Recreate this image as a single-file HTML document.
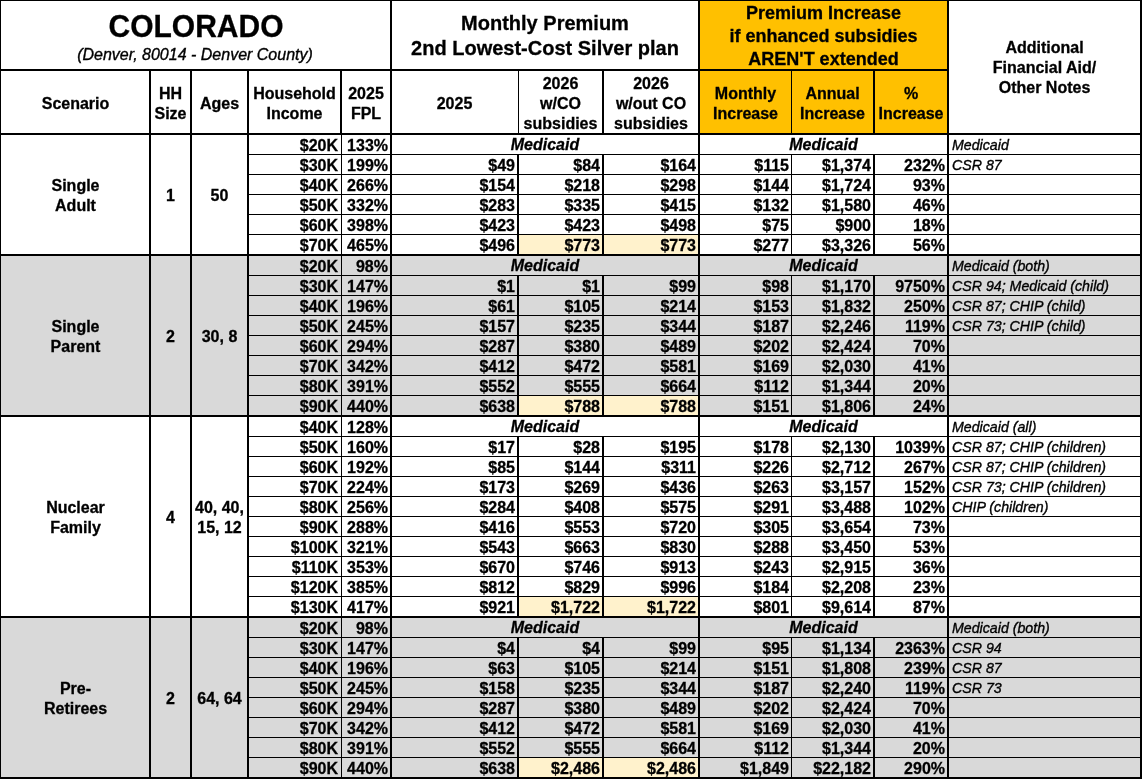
<!DOCTYPE html>
<html><head><meta charset="utf-8"><title>Colorado</title><style>
html,body{margin:0;padding:0;background:#fff;}
body{width:1142px;height:779px;position:relative;overflow:hidden;font-family:"Liberation Sans",sans-serif;color:#000;}
body>div{position:absolute;}
.tx{left:0;top:0;width:1142px;height:779px;will-change:transform;}
.tx>div{position:absolute;white-space:nowrap;}
.b{font-weight:bold;font-size:16px;line-height:20px;-webkit-text-stroke:0.3px #000;}
.bi{font-weight:bold;font-style:italic;font-size:16px;line-height:20px;-webkit-text-stroke:0.3px #000;}
.i{font-style:italic;font-size:16px;line-height:20px;-webkit-text-stroke:0.35px #000;}
</style></head><body>
<div style="left:700px;top:1px;width:247px;height:132px;background:#ffc000"></div>
<div style="left:519px;top:235px;width:83px;height:19px;background:#fff2cc"></div>
<div style="left:604px;top:235px;width:94px;height:19px;background:#fff2cc"></div>
<div style="left:1px;top:256px;width:1139px;height:159px;background:#d9d9d9"></div>
<div style="left:519px;top:396px;width:83px;height:19px;background:#fff2cc"></div>
<div style="left:604px;top:396px;width:94px;height:19px;background:#fff2cc"></div>
<div style="left:519px;top:597px;width:83px;height:19px;background:#fff2cc"></div>
<div style="left:604px;top:597px;width:94px;height:19px;background:#fff2cc"></div>
<div style="left:1px;top:618px;width:1139px;height:159px;background:#d9d9d9"></div>
<div style="left:519px;top:758px;width:83px;height:19px;background:#fff2cc"></div>
<div style="left:604px;top:758px;width:94px;height:19px;background:#fff2cc"></div>
<div style="left:0px;top:0px;width:1142px;height:1px;background:#000"></div>
<div style="left:0px;top:133px;width:1142px;height:2px;background:#000"></div>
<div style="left:0px;top:254px;width:1142px;height:2px;background:#000"></div>
<div style="left:0px;top:415px;width:1142px;height:2px;background:#000"></div>
<div style="left:0px;top:616px;width:1142px;height:2px;background:#000"></div>
<div style="left:0px;top:777px;width:1142px;height:2px;background:#000"></div>
<div style="left:0px;top:69px;width:949px;height:2px;background:#000"></div>
<div style="left:0px;top:0px;width:1px;height:779px;background:#000"></div>
<div style="left:390px;top:0px;width:2px;height:779px;background:#000"></div>
<div style="left:698px;top:0px;width:2px;height:779px;background:#000"></div>
<div style="left:947px;top:0px;width:2px;height:779px;background:#000"></div>
<div style="left:1140px;top:0px;width:2px;height:779px;background:#000"></div>
<div style="left:149px;top:69px;width:2px;height:710px;background:#000"></div>
<div style="left:190px;top:69px;width:2px;height:710px;background:#000"></div>
<div style="left:247px;top:69px;width:2px;height:710px;background:#000"></div>
<div style="left:340px;top:69px;width:2px;height:66px;background:#000"></div>
<div style="left:341px;top:135px;width:1px;height:644px;background:#000"></div>
<div style="left:518px;top:69px;width:1px;height:66px;background:#000"></div>
<div style="left:602px;top:69px;width:2px;height:66px;background:#000"></div>
<div style="left:791px;top:69px;width:1px;height:66px;background:#000"></div>
<div style="left:873px;top:69px;width:2px;height:66px;background:#000"></div>
<div style="left:249px;top:154px;width:893px;height:1px;background:#000"></div>
<div style="left:249px;top:174px;width:893px;height:1px;background:#000"></div>
<div style="left:249px;top:194px;width:893px;height:1px;background:#000"></div>
<div style="left:249px;top:214px;width:893px;height:1px;background:#000"></div>
<div style="left:249px;top:234px;width:893px;height:1px;background:#000"></div>
<div style="left:517px;top:155px;width:2px;height:19px;background:#000"></div>
<div style="left:602px;top:155px;width:2px;height:19px;background:#000"></div>
<div style="left:791px;top:155px;width:1px;height:19px;background:#000"></div>
<div style="left:873px;top:155px;width:2px;height:19px;background:#000"></div>
<div style="left:517px;top:175px;width:2px;height:19px;background:#000"></div>
<div style="left:602px;top:175px;width:2px;height:19px;background:#000"></div>
<div style="left:791px;top:175px;width:1px;height:19px;background:#000"></div>
<div style="left:873px;top:175px;width:2px;height:19px;background:#000"></div>
<div style="left:517px;top:195px;width:2px;height:19px;background:#000"></div>
<div style="left:602px;top:195px;width:2px;height:19px;background:#000"></div>
<div style="left:791px;top:195px;width:1px;height:19px;background:#000"></div>
<div style="left:873px;top:195px;width:2px;height:19px;background:#000"></div>
<div style="left:517px;top:215px;width:2px;height:19px;background:#000"></div>
<div style="left:602px;top:215px;width:2px;height:19px;background:#000"></div>
<div style="left:791px;top:215px;width:1px;height:19px;background:#000"></div>
<div style="left:873px;top:215px;width:2px;height:19px;background:#000"></div>
<div style="left:517px;top:235px;width:2px;height:19px;background:#000"></div>
<div style="left:602px;top:235px;width:2px;height:19px;background:#000"></div>
<div style="left:791px;top:235px;width:1px;height:19px;background:#000"></div>
<div style="left:873px;top:235px;width:2px;height:19px;background:#000"></div>
<div style="left:249px;top:275px;width:893px;height:1px;background:#000"></div>
<div style="left:249px;top:295px;width:893px;height:1px;background:#000"></div>
<div style="left:249px;top:315px;width:893px;height:1px;background:#000"></div>
<div style="left:249px;top:335px;width:893px;height:1px;background:#000"></div>
<div style="left:249px;top:355px;width:893px;height:1px;background:#000"></div>
<div style="left:249px;top:375px;width:893px;height:1px;background:#000"></div>
<div style="left:249px;top:395px;width:893px;height:1px;background:#000"></div>
<div style="left:517px;top:276px;width:2px;height:19px;background:#000"></div>
<div style="left:602px;top:276px;width:2px;height:19px;background:#000"></div>
<div style="left:791px;top:276px;width:1px;height:19px;background:#000"></div>
<div style="left:873px;top:276px;width:2px;height:19px;background:#000"></div>
<div style="left:517px;top:296px;width:2px;height:19px;background:#000"></div>
<div style="left:602px;top:296px;width:2px;height:19px;background:#000"></div>
<div style="left:791px;top:296px;width:1px;height:19px;background:#000"></div>
<div style="left:873px;top:296px;width:2px;height:19px;background:#000"></div>
<div style="left:517px;top:316px;width:2px;height:19px;background:#000"></div>
<div style="left:602px;top:316px;width:2px;height:19px;background:#000"></div>
<div style="left:791px;top:316px;width:1px;height:19px;background:#000"></div>
<div style="left:873px;top:316px;width:2px;height:19px;background:#000"></div>
<div style="left:517px;top:336px;width:2px;height:19px;background:#000"></div>
<div style="left:602px;top:336px;width:2px;height:19px;background:#000"></div>
<div style="left:791px;top:336px;width:1px;height:19px;background:#000"></div>
<div style="left:873px;top:336px;width:2px;height:19px;background:#000"></div>
<div style="left:517px;top:356px;width:2px;height:19px;background:#000"></div>
<div style="left:602px;top:356px;width:2px;height:19px;background:#000"></div>
<div style="left:791px;top:356px;width:1px;height:19px;background:#000"></div>
<div style="left:873px;top:356px;width:2px;height:19px;background:#000"></div>
<div style="left:517px;top:376px;width:2px;height:19px;background:#000"></div>
<div style="left:602px;top:376px;width:2px;height:19px;background:#000"></div>
<div style="left:791px;top:376px;width:1px;height:19px;background:#000"></div>
<div style="left:873px;top:376px;width:2px;height:19px;background:#000"></div>
<div style="left:517px;top:396px;width:2px;height:19px;background:#000"></div>
<div style="left:602px;top:396px;width:2px;height:19px;background:#000"></div>
<div style="left:791px;top:396px;width:1px;height:19px;background:#000"></div>
<div style="left:873px;top:396px;width:2px;height:19px;background:#000"></div>
<div style="left:249px;top:436px;width:893px;height:1px;background:#000"></div>
<div style="left:249px;top:456px;width:893px;height:1px;background:#000"></div>
<div style="left:249px;top:476px;width:893px;height:1px;background:#000"></div>
<div style="left:249px;top:496px;width:893px;height:1px;background:#000"></div>
<div style="left:249px;top:516px;width:893px;height:1px;background:#000"></div>
<div style="left:249px;top:536px;width:893px;height:1px;background:#000"></div>
<div style="left:249px;top:556px;width:893px;height:1px;background:#000"></div>
<div style="left:249px;top:576px;width:893px;height:1px;background:#000"></div>
<div style="left:249px;top:596px;width:893px;height:1px;background:#000"></div>
<div style="left:517px;top:437px;width:2px;height:19px;background:#000"></div>
<div style="left:602px;top:437px;width:2px;height:19px;background:#000"></div>
<div style="left:791px;top:437px;width:1px;height:19px;background:#000"></div>
<div style="left:873px;top:437px;width:2px;height:19px;background:#000"></div>
<div style="left:517px;top:457px;width:2px;height:19px;background:#000"></div>
<div style="left:602px;top:457px;width:2px;height:19px;background:#000"></div>
<div style="left:791px;top:457px;width:1px;height:19px;background:#000"></div>
<div style="left:873px;top:457px;width:2px;height:19px;background:#000"></div>
<div style="left:517px;top:477px;width:2px;height:19px;background:#000"></div>
<div style="left:602px;top:477px;width:2px;height:19px;background:#000"></div>
<div style="left:791px;top:477px;width:1px;height:19px;background:#000"></div>
<div style="left:873px;top:477px;width:2px;height:19px;background:#000"></div>
<div style="left:517px;top:497px;width:2px;height:19px;background:#000"></div>
<div style="left:602px;top:497px;width:2px;height:19px;background:#000"></div>
<div style="left:791px;top:497px;width:1px;height:19px;background:#000"></div>
<div style="left:873px;top:497px;width:2px;height:19px;background:#000"></div>
<div style="left:517px;top:517px;width:2px;height:19px;background:#000"></div>
<div style="left:602px;top:517px;width:2px;height:19px;background:#000"></div>
<div style="left:791px;top:517px;width:1px;height:19px;background:#000"></div>
<div style="left:873px;top:517px;width:2px;height:19px;background:#000"></div>
<div style="left:517px;top:537px;width:2px;height:19px;background:#000"></div>
<div style="left:602px;top:537px;width:2px;height:19px;background:#000"></div>
<div style="left:791px;top:537px;width:1px;height:19px;background:#000"></div>
<div style="left:873px;top:537px;width:2px;height:19px;background:#000"></div>
<div style="left:517px;top:557px;width:2px;height:19px;background:#000"></div>
<div style="left:602px;top:557px;width:2px;height:19px;background:#000"></div>
<div style="left:791px;top:557px;width:1px;height:19px;background:#000"></div>
<div style="left:873px;top:557px;width:2px;height:19px;background:#000"></div>
<div style="left:517px;top:577px;width:2px;height:19px;background:#000"></div>
<div style="left:602px;top:577px;width:2px;height:19px;background:#000"></div>
<div style="left:791px;top:577px;width:1px;height:19px;background:#000"></div>
<div style="left:873px;top:577px;width:2px;height:19px;background:#000"></div>
<div style="left:517px;top:597px;width:2px;height:19px;background:#000"></div>
<div style="left:602px;top:597px;width:2px;height:19px;background:#000"></div>
<div style="left:791px;top:597px;width:1px;height:19px;background:#000"></div>
<div style="left:873px;top:597px;width:2px;height:19px;background:#000"></div>
<div style="left:249px;top:637px;width:893px;height:1px;background:#000"></div>
<div style="left:249px;top:657px;width:893px;height:1px;background:#000"></div>
<div style="left:249px;top:677px;width:893px;height:1px;background:#000"></div>
<div style="left:249px;top:697px;width:893px;height:1px;background:#000"></div>
<div style="left:249px;top:717px;width:893px;height:1px;background:#000"></div>
<div style="left:249px;top:737px;width:893px;height:1px;background:#000"></div>
<div style="left:249px;top:757px;width:893px;height:1px;background:#000"></div>
<div style="left:517px;top:638px;width:2px;height:19px;background:#000"></div>
<div style="left:602px;top:638px;width:2px;height:19px;background:#000"></div>
<div style="left:791px;top:638px;width:1px;height:19px;background:#000"></div>
<div style="left:873px;top:638px;width:2px;height:19px;background:#000"></div>
<div style="left:517px;top:658px;width:2px;height:19px;background:#000"></div>
<div style="left:602px;top:658px;width:2px;height:19px;background:#000"></div>
<div style="left:791px;top:658px;width:1px;height:19px;background:#000"></div>
<div style="left:873px;top:658px;width:2px;height:19px;background:#000"></div>
<div style="left:517px;top:678px;width:2px;height:19px;background:#000"></div>
<div style="left:602px;top:678px;width:2px;height:19px;background:#000"></div>
<div style="left:791px;top:678px;width:1px;height:19px;background:#000"></div>
<div style="left:873px;top:678px;width:2px;height:19px;background:#000"></div>
<div style="left:517px;top:698px;width:2px;height:19px;background:#000"></div>
<div style="left:602px;top:698px;width:2px;height:19px;background:#000"></div>
<div style="left:791px;top:698px;width:1px;height:19px;background:#000"></div>
<div style="left:873px;top:698px;width:2px;height:19px;background:#000"></div>
<div style="left:517px;top:718px;width:2px;height:19px;background:#000"></div>
<div style="left:602px;top:718px;width:2px;height:19px;background:#000"></div>
<div style="left:791px;top:718px;width:1px;height:19px;background:#000"></div>
<div style="left:873px;top:718px;width:2px;height:19px;background:#000"></div>
<div style="left:517px;top:738px;width:2px;height:19px;background:#000"></div>
<div style="left:602px;top:738px;width:2px;height:19px;background:#000"></div>
<div style="left:791px;top:738px;width:1px;height:19px;background:#000"></div>
<div style="left:873px;top:738px;width:2px;height:19px;background:#000"></div>
<div style="left:517px;top:758px;width:2px;height:19px;background:#000"></div>
<div style="left:602px;top:758px;width:2px;height:19px;background:#000"></div>
<div style="left:791px;top:758px;width:1px;height:19px;background:#000"></div>
<div style="left:873px;top:758px;width:2px;height:19px;background:#000"></div>
<div class="tx">
<div class="b" style="left:2px;top:12px;width:388px;text-align:center;line-height:30px;font-size:30px;transform:scaleY(1.05);transform-origin:50% 60%">COLORADO</div>
<div class="i" style="left:1px;top:46px;width:388px;text-align:center;line-height:18px;font-size:16px">(Denver, 80014 - Denver County)</div>
<div class="b" style="left:392px;top:11px;width:306px;text-align:center;line-height:25px;font-size:20px">Monthly Premium<br>2nd Lowest-Cost Silver plan</div>
<div class="b" style="left:700px;top:2px;width:247px;text-align:center;line-height:22.75px;font-size:18px">Premium Increase<br>if enhanced subsidies<br>AREN'T extended</div>
<div class="b" style="left:949px;top:38px;width:191px;text-align:center;line-height:20px">Additional<br>Financial Aid/<br>Other Notes</div>
<div class="b" style="left:2px;top:94px;width:147px;text-align:center">Scenario</div>
<div class="b" style="left:151px;top:84px;width:39px;text-align:center">HH<br>Size</div>
<div class="b" style="left:192px;top:94px;width:55px;text-align:center">Ages</div>
<div class="b" style="left:249px;top:84px;width:91px;text-align:center">Household<br>Income</div>
<div class="b" style="left:342px;top:84px;width:48px;text-align:center">2025<br>FPL</div>
<div class="b" style="left:392px;top:94px;width:125px;text-align:center">2025</div>
<div class="b" style="left:519px;top:74px;width:83px;text-align:center">2026<br>w/CO<br>subsidies</div>
<div class="b" style="left:604px;top:74px;width:94px;text-align:center">2026<br>w/out CO<br>subsidies</div>
<div class="b" style="left:700px;top:84px;width:91px;text-align:center">Monthly<br>Increase</div>
<div class="b" style="left:792px;top:84px;width:81px;text-align:center">Annual<br>Increase</div>
<div class="b" style="left:875px;top:84px;width:72px;text-align:center">%<br>Increase</div>
<div class="b" style="left:2px;top:176px;width:147px;text-align:center">Single<br>Adult</div>
<div class="b" style="left:151px;top:186px;width:39px;text-align:center">1</div>
<div class="b" style="left:192px;top:186px;width:55px;text-align:center">50</div>
<div class="b" style="left:249px;top:136px;width:89px;text-align:right">$20K</div>
<div class="b" style="left:342px;top:136px;width:46px;text-align:right">133%</div>
<div class="bi" style="left:392px;top:135px;width:306px;text-align:center">Medicaid</div>
<div class="bi" style="left:700px;top:135px;width:247px;text-align:center">Medicaid</div>
<div class="i" style="left:952px;top:135px;width:188px;text-align:left;font-size:14.2px">Medicaid</div>
<div class="b" style="left:249px;top:156px;width:89px;text-align:right">$30K</div>
<div class="b" style="left:342px;top:156px;width:46px;text-align:right">199%</div>
<div class="b" style="left:392px;top:156px;width:123px;text-align:right">$49</div>
<div class="b" style="left:519px;top:156px;width:81px;text-align:right">$84</div>
<div class="b" style="left:604px;top:156px;width:92px;text-align:right">$164</div>
<div class="b" style="left:700px;top:156px;width:89px;text-align:right">$115</div>
<div class="b" style="left:792px;top:156px;width:79px;text-align:right">$1,374</div>
<div class="b" style="left:875px;top:156px;width:70px;text-align:right">232%</div>
<div class="i" style="left:952px;top:155px;width:188px;text-align:left;font-size:14.2px">CSR 87</div>
<div class="b" style="left:249px;top:176px;width:89px;text-align:right">$40K</div>
<div class="b" style="left:342px;top:176px;width:46px;text-align:right">266%</div>
<div class="b" style="left:392px;top:176px;width:123px;text-align:right">$154</div>
<div class="b" style="left:519px;top:176px;width:81px;text-align:right">$218</div>
<div class="b" style="left:604px;top:176px;width:92px;text-align:right">$298</div>
<div class="b" style="left:700px;top:176px;width:89px;text-align:right">$144</div>
<div class="b" style="left:792px;top:176px;width:79px;text-align:right">$1,724</div>
<div class="b" style="left:875px;top:176px;width:70px;text-align:right">93%</div>
<div class="b" style="left:249px;top:196px;width:89px;text-align:right">$50K</div>
<div class="b" style="left:342px;top:196px;width:46px;text-align:right">332%</div>
<div class="b" style="left:392px;top:196px;width:123px;text-align:right">$283</div>
<div class="b" style="left:519px;top:196px;width:81px;text-align:right">$335</div>
<div class="b" style="left:604px;top:196px;width:92px;text-align:right">$415</div>
<div class="b" style="left:700px;top:196px;width:89px;text-align:right">$132</div>
<div class="b" style="left:792px;top:196px;width:79px;text-align:right">$1,580</div>
<div class="b" style="left:875px;top:196px;width:70px;text-align:right">46%</div>
<div class="b" style="left:249px;top:216px;width:89px;text-align:right">$60K</div>
<div class="b" style="left:342px;top:216px;width:46px;text-align:right">398%</div>
<div class="b" style="left:392px;top:216px;width:123px;text-align:right">$423</div>
<div class="b" style="left:519px;top:216px;width:81px;text-align:right">$423</div>
<div class="b" style="left:604px;top:216px;width:92px;text-align:right">$498</div>
<div class="b" style="left:700px;top:216px;width:89px;text-align:right">$75</div>
<div class="b" style="left:792px;top:216px;width:79px;text-align:right">$900</div>
<div class="b" style="left:875px;top:216px;width:70px;text-align:right">18%</div>
<div class="b" style="left:249px;top:236px;width:89px;text-align:right">$70K</div>
<div class="b" style="left:342px;top:236px;width:46px;text-align:right">465%</div>
<div class="b" style="left:392px;top:236px;width:123px;text-align:right">$496</div>
<div class="b" style="left:519px;top:236px;width:81px;text-align:right">$773</div>
<div class="b" style="left:604px;top:236px;width:92px;text-align:right">$773</div>
<div class="b" style="left:700px;top:236px;width:89px;text-align:right">$277</div>
<div class="b" style="left:792px;top:236px;width:79px;text-align:right">$3,326</div>
<div class="b" style="left:875px;top:236px;width:70px;text-align:right">56%</div>
<div class="b" style="left:2px;top:317px;width:147px;text-align:center">Single<br>Parent</div>
<div class="b" style="left:151px;top:327px;width:39px;text-align:center">2</div>
<div class="b" style="left:192px;top:327px;width:55px;text-align:center">30, 8</div>
<div class="b" style="left:249px;top:257px;width:89px;text-align:right">$20K</div>
<div class="b" style="left:342px;top:257px;width:46px;text-align:right">98%</div>
<div class="bi" style="left:392px;top:256px;width:306px;text-align:center">Medicaid</div>
<div class="bi" style="left:700px;top:256px;width:247px;text-align:center">Medicaid</div>
<div class="i" style="left:952px;top:256px;width:188px;text-align:left;font-size:14.2px">Medicaid (both)</div>
<div class="b" style="left:249px;top:277px;width:89px;text-align:right">$30K</div>
<div class="b" style="left:342px;top:277px;width:46px;text-align:right">147%</div>
<div class="b" style="left:392px;top:277px;width:123px;text-align:right">$1</div>
<div class="b" style="left:519px;top:277px;width:81px;text-align:right">$1</div>
<div class="b" style="left:604px;top:277px;width:92px;text-align:right">$99</div>
<div class="b" style="left:700px;top:277px;width:89px;text-align:right">$98</div>
<div class="b" style="left:792px;top:277px;width:79px;text-align:right">$1,170</div>
<div class="b" style="left:875px;top:277px;width:70px;text-align:right">9750%</div>
<div class="i" style="left:952px;top:276px;width:188px;text-align:left;font-size:14.2px">CSR 94; Medicaid (child)</div>
<div class="b" style="left:249px;top:297px;width:89px;text-align:right">$40K</div>
<div class="b" style="left:342px;top:297px;width:46px;text-align:right">196%</div>
<div class="b" style="left:392px;top:297px;width:123px;text-align:right">$61</div>
<div class="b" style="left:519px;top:297px;width:81px;text-align:right">$105</div>
<div class="b" style="left:604px;top:297px;width:92px;text-align:right">$214</div>
<div class="b" style="left:700px;top:297px;width:89px;text-align:right">$153</div>
<div class="b" style="left:792px;top:297px;width:79px;text-align:right">$1,832</div>
<div class="b" style="left:875px;top:297px;width:70px;text-align:right">250%</div>
<div class="i" style="left:952px;top:296px;width:188px;text-align:left;font-size:14.2px">CSR 87; CHIP (child)</div>
<div class="b" style="left:249px;top:317px;width:89px;text-align:right">$50K</div>
<div class="b" style="left:342px;top:317px;width:46px;text-align:right">245%</div>
<div class="b" style="left:392px;top:317px;width:123px;text-align:right">$157</div>
<div class="b" style="left:519px;top:317px;width:81px;text-align:right">$235</div>
<div class="b" style="left:604px;top:317px;width:92px;text-align:right">$344</div>
<div class="b" style="left:700px;top:317px;width:89px;text-align:right">$187</div>
<div class="b" style="left:792px;top:317px;width:79px;text-align:right">$2,246</div>
<div class="b" style="left:875px;top:317px;width:70px;text-align:right">119%</div>
<div class="i" style="left:952px;top:316px;width:188px;text-align:left;font-size:14.2px">CSR 73; CHIP (child)</div>
<div class="b" style="left:249px;top:337px;width:89px;text-align:right">$60K</div>
<div class="b" style="left:342px;top:337px;width:46px;text-align:right">294%</div>
<div class="b" style="left:392px;top:337px;width:123px;text-align:right">$287</div>
<div class="b" style="left:519px;top:337px;width:81px;text-align:right">$380</div>
<div class="b" style="left:604px;top:337px;width:92px;text-align:right">$489</div>
<div class="b" style="left:700px;top:337px;width:89px;text-align:right">$202</div>
<div class="b" style="left:792px;top:337px;width:79px;text-align:right">$2,424</div>
<div class="b" style="left:875px;top:337px;width:70px;text-align:right">70%</div>
<div class="b" style="left:249px;top:357px;width:89px;text-align:right">$70K</div>
<div class="b" style="left:342px;top:357px;width:46px;text-align:right">342%</div>
<div class="b" style="left:392px;top:357px;width:123px;text-align:right">$412</div>
<div class="b" style="left:519px;top:357px;width:81px;text-align:right">$472</div>
<div class="b" style="left:604px;top:357px;width:92px;text-align:right">$581</div>
<div class="b" style="left:700px;top:357px;width:89px;text-align:right">$169</div>
<div class="b" style="left:792px;top:357px;width:79px;text-align:right">$2,030</div>
<div class="b" style="left:875px;top:357px;width:70px;text-align:right">41%</div>
<div class="b" style="left:249px;top:377px;width:89px;text-align:right">$80K</div>
<div class="b" style="left:342px;top:377px;width:46px;text-align:right">391%</div>
<div class="b" style="left:392px;top:377px;width:123px;text-align:right">$552</div>
<div class="b" style="left:519px;top:377px;width:81px;text-align:right">$555</div>
<div class="b" style="left:604px;top:377px;width:92px;text-align:right">$664</div>
<div class="b" style="left:700px;top:377px;width:89px;text-align:right">$112</div>
<div class="b" style="left:792px;top:377px;width:79px;text-align:right">$1,344</div>
<div class="b" style="left:875px;top:377px;width:70px;text-align:right">20%</div>
<div class="b" style="left:249px;top:397px;width:89px;text-align:right">$90K</div>
<div class="b" style="left:342px;top:397px;width:46px;text-align:right">440%</div>
<div class="b" style="left:392px;top:397px;width:123px;text-align:right">$638</div>
<div class="b" style="left:519px;top:397px;width:81px;text-align:right">$788</div>
<div class="b" style="left:604px;top:397px;width:92px;text-align:right">$788</div>
<div class="b" style="left:700px;top:397px;width:89px;text-align:right">$151</div>
<div class="b" style="left:792px;top:397px;width:79px;text-align:right">$1,806</div>
<div class="b" style="left:875px;top:397px;width:70px;text-align:right">24%</div>
<div class="b" style="left:2px;top:498px;width:147px;text-align:center">Nuclear<br>Family</div>
<div class="b" style="left:151px;top:508px;width:39px;text-align:center">4</div>
<div class="b" style="left:192px;top:498px;width:55px;text-align:center">40, 40,<br>15, 12</div>
<div class="b" style="left:249px;top:418px;width:89px;text-align:right">$40K</div>
<div class="b" style="left:342px;top:418px;width:46px;text-align:right">128%</div>
<div class="bi" style="left:392px;top:417px;width:306px;text-align:center">Medicaid</div>
<div class="bi" style="left:700px;top:417px;width:247px;text-align:center">Medicaid</div>
<div class="i" style="left:952px;top:417px;width:188px;text-align:left;font-size:14.2px">Medicaid (all)</div>
<div class="b" style="left:249px;top:438px;width:89px;text-align:right">$50K</div>
<div class="b" style="left:342px;top:438px;width:46px;text-align:right">160%</div>
<div class="b" style="left:392px;top:438px;width:123px;text-align:right">$17</div>
<div class="b" style="left:519px;top:438px;width:81px;text-align:right">$28</div>
<div class="b" style="left:604px;top:438px;width:92px;text-align:right">$195</div>
<div class="b" style="left:700px;top:438px;width:89px;text-align:right">$178</div>
<div class="b" style="left:792px;top:438px;width:79px;text-align:right">$2,130</div>
<div class="b" style="left:875px;top:438px;width:70px;text-align:right">1039%</div>
<div class="i" style="left:952px;top:437px;width:188px;text-align:left;font-size:14.2px">CSR 87; CHIP (children)</div>
<div class="b" style="left:249px;top:458px;width:89px;text-align:right">$60K</div>
<div class="b" style="left:342px;top:458px;width:46px;text-align:right">192%</div>
<div class="b" style="left:392px;top:458px;width:123px;text-align:right">$85</div>
<div class="b" style="left:519px;top:458px;width:81px;text-align:right">$144</div>
<div class="b" style="left:604px;top:458px;width:92px;text-align:right">$311</div>
<div class="b" style="left:700px;top:458px;width:89px;text-align:right">$226</div>
<div class="b" style="left:792px;top:458px;width:79px;text-align:right">$2,712</div>
<div class="b" style="left:875px;top:458px;width:70px;text-align:right">267%</div>
<div class="i" style="left:952px;top:457px;width:188px;text-align:left;font-size:14.2px">CSR 87; CHIP (children)</div>
<div class="b" style="left:249px;top:478px;width:89px;text-align:right">$70K</div>
<div class="b" style="left:342px;top:478px;width:46px;text-align:right">224%</div>
<div class="b" style="left:392px;top:478px;width:123px;text-align:right">$173</div>
<div class="b" style="left:519px;top:478px;width:81px;text-align:right">$269</div>
<div class="b" style="left:604px;top:478px;width:92px;text-align:right">$436</div>
<div class="b" style="left:700px;top:478px;width:89px;text-align:right">$263</div>
<div class="b" style="left:792px;top:478px;width:79px;text-align:right">$3,157</div>
<div class="b" style="left:875px;top:478px;width:70px;text-align:right">152%</div>
<div class="i" style="left:952px;top:477px;width:188px;text-align:left;font-size:14.2px">CSR 73; CHIP (children)</div>
<div class="b" style="left:249px;top:498px;width:89px;text-align:right">$80K</div>
<div class="b" style="left:342px;top:498px;width:46px;text-align:right">256%</div>
<div class="b" style="left:392px;top:498px;width:123px;text-align:right">$284</div>
<div class="b" style="left:519px;top:498px;width:81px;text-align:right">$408</div>
<div class="b" style="left:604px;top:498px;width:92px;text-align:right">$575</div>
<div class="b" style="left:700px;top:498px;width:89px;text-align:right">$291</div>
<div class="b" style="left:792px;top:498px;width:79px;text-align:right">$3,488</div>
<div class="b" style="left:875px;top:498px;width:70px;text-align:right">102%</div>
<div class="i" style="left:952px;top:497px;width:188px;text-align:left;font-size:14.2px">CHIP (children)</div>
<div class="b" style="left:249px;top:518px;width:89px;text-align:right">$90K</div>
<div class="b" style="left:342px;top:518px;width:46px;text-align:right">288%</div>
<div class="b" style="left:392px;top:518px;width:123px;text-align:right">$416</div>
<div class="b" style="left:519px;top:518px;width:81px;text-align:right">$553</div>
<div class="b" style="left:604px;top:518px;width:92px;text-align:right">$720</div>
<div class="b" style="left:700px;top:518px;width:89px;text-align:right">$305</div>
<div class="b" style="left:792px;top:518px;width:79px;text-align:right">$3,654</div>
<div class="b" style="left:875px;top:518px;width:70px;text-align:right">73%</div>
<div class="b" style="left:249px;top:538px;width:89px;text-align:right">$100K</div>
<div class="b" style="left:342px;top:538px;width:46px;text-align:right">321%</div>
<div class="b" style="left:392px;top:538px;width:123px;text-align:right">$543</div>
<div class="b" style="left:519px;top:538px;width:81px;text-align:right">$663</div>
<div class="b" style="left:604px;top:538px;width:92px;text-align:right">$830</div>
<div class="b" style="left:700px;top:538px;width:89px;text-align:right">$288</div>
<div class="b" style="left:792px;top:538px;width:79px;text-align:right">$3,450</div>
<div class="b" style="left:875px;top:538px;width:70px;text-align:right">53%</div>
<div class="b" style="left:249px;top:558px;width:89px;text-align:right">$110K</div>
<div class="b" style="left:342px;top:558px;width:46px;text-align:right">353%</div>
<div class="b" style="left:392px;top:558px;width:123px;text-align:right">$670</div>
<div class="b" style="left:519px;top:558px;width:81px;text-align:right">$746</div>
<div class="b" style="left:604px;top:558px;width:92px;text-align:right">$913</div>
<div class="b" style="left:700px;top:558px;width:89px;text-align:right">$243</div>
<div class="b" style="left:792px;top:558px;width:79px;text-align:right">$2,915</div>
<div class="b" style="left:875px;top:558px;width:70px;text-align:right">36%</div>
<div class="b" style="left:249px;top:578px;width:89px;text-align:right">$120K</div>
<div class="b" style="left:342px;top:578px;width:46px;text-align:right">385%</div>
<div class="b" style="left:392px;top:578px;width:123px;text-align:right">$812</div>
<div class="b" style="left:519px;top:578px;width:81px;text-align:right">$829</div>
<div class="b" style="left:604px;top:578px;width:92px;text-align:right">$996</div>
<div class="b" style="left:700px;top:578px;width:89px;text-align:right">$184</div>
<div class="b" style="left:792px;top:578px;width:79px;text-align:right">$2,208</div>
<div class="b" style="left:875px;top:578px;width:70px;text-align:right">23%</div>
<div class="b" style="left:249px;top:598px;width:89px;text-align:right">$130K</div>
<div class="b" style="left:342px;top:598px;width:46px;text-align:right">417%</div>
<div class="b" style="left:392px;top:598px;width:123px;text-align:right">$921</div>
<div class="b" style="left:519px;top:598px;width:81px;text-align:right">$1,722</div>
<div class="b" style="left:604px;top:598px;width:92px;text-align:right">$1,722</div>
<div class="b" style="left:700px;top:598px;width:89px;text-align:right">$801</div>
<div class="b" style="left:792px;top:598px;width:79px;text-align:right">$9,614</div>
<div class="b" style="left:875px;top:598px;width:70px;text-align:right">87%</div>
<div class="b" style="left:2px;top:679px;width:147px;text-align:center">Pre-<br>Retirees</div>
<div class="b" style="left:151px;top:689px;width:39px;text-align:center">2</div>
<div class="b" style="left:192px;top:689px;width:55px;text-align:center">64, 64</div>
<div class="b" style="left:249px;top:619px;width:89px;text-align:right">$20K</div>
<div class="b" style="left:342px;top:619px;width:46px;text-align:right">98%</div>
<div class="bi" style="left:392px;top:618px;width:306px;text-align:center">Medicaid</div>
<div class="bi" style="left:700px;top:618px;width:247px;text-align:center">Medicaid</div>
<div class="i" style="left:952px;top:618px;width:188px;text-align:left;font-size:14.2px">Medicaid (both)</div>
<div class="b" style="left:249px;top:639px;width:89px;text-align:right">$30K</div>
<div class="b" style="left:342px;top:639px;width:46px;text-align:right">147%</div>
<div class="b" style="left:392px;top:639px;width:123px;text-align:right">$4</div>
<div class="b" style="left:519px;top:639px;width:81px;text-align:right">$4</div>
<div class="b" style="left:604px;top:639px;width:92px;text-align:right">$99</div>
<div class="b" style="left:700px;top:639px;width:89px;text-align:right">$95</div>
<div class="b" style="left:792px;top:639px;width:79px;text-align:right">$1,134</div>
<div class="b" style="left:875px;top:639px;width:70px;text-align:right">2363%</div>
<div class="i" style="left:952px;top:638px;width:188px;text-align:left;font-size:14.2px">CSR 94</div>
<div class="b" style="left:249px;top:659px;width:89px;text-align:right">$40K</div>
<div class="b" style="left:342px;top:659px;width:46px;text-align:right">196%</div>
<div class="b" style="left:392px;top:659px;width:123px;text-align:right">$63</div>
<div class="b" style="left:519px;top:659px;width:81px;text-align:right">$105</div>
<div class="b" style="left:604px;top:659px;width:92px;text-align:right">$214</div>
<div class="b" style="left:700px;top:659px;width:89px;text-align:right">$151</div>
<div class="b" style="left:792px;top:659px;width:79px;text-align:right">$1,808</div>
<div class="b" style="left:875px;top:659px;width:70px;text-align:right">239%</div>
<div class="i" style="left:952px;top:658px;width:188px;text-align:left;font-size:14.2px">CSR 87</div>
<div class="b" style="left:249px;top:679px;width:89px;text-align:right">$50K</div>
<div class="b" style="left:342px;top:679px;width:46px;text-align:right">245%</div>
<div class="b" style="left:392px;top:679px;width:123px;text-align:right">$158</div>
<div class="b" style="left:519px;top:679px;width:81px;text-align:right">$235</div>
<div class="b" style="left:604px;top:679px;width:92px;text-align:right">$344</div>
<div class="b" style="left:700px;top:679px;width:89px;text-align:right">$187</div>
<div class="b" style="left:792px;top:679px;width:79px;text-align:right">$2,240</div>
<div class="b" style="left:875px;top:679px;width:70px;text-align:right">119%</div>
<div class="i" style="left:952px;top:678px;width:188px;text-align:left;font-size:14.2px">CSR 73</div>
<div class="b" style="left:249px;top:699px;width:89px;text-align:right">$60K</div>
<div class="b" style="left:342px;top:699px;width:46px;text-align:right">294%</div>
<div class="b" style="left:392px;top:699px;width:123px;text-align:right">$287</div>
<div class="b" style="left:519px;top:699px;width:81px;text-align:right">$380</div>
<div class="b" style="left:604px;top:699px;width:92px;text-align:right">$489</div>
<div class="b" style="left:700px;top:699px;width:89px;text-align:right">$202</div>
<div class="b" style="left:792px;top:699px;width:79px;text-align:right">$2,424</div>
<div class="b" style="left:875px;top:699px;width:70px;text-align:right">70%</div>
<div class="b" style="left:249px;top:719px;width:89px;text-align:right">$70K</div>
<div class="b" style="left:342px;top:719px;width:46px;text-align:right">342%</div>
<div class="b" style="left:392px;top:719px;width:123px;text-align:right">$412</div>
<div class="b" style="left:519px;top:719px;width:81px;text-align:right">$472</div>
<div class="b" style="left:604px;top:719px;width:92px;text-align:right">$581</div>
<div class="b" style="left:700px;top:719px;width:89px;text-align:right">$169</div>
<div class="b" style="left:792px;top:719px;width:79px;text-align:right">$2,030</div>
<div class="b" style="left:875px;top:719px;width:70px;text-align:right">41%</div>
<div class="b" style="left:249px;top:739px;width:89px;text-align:right">$80K</div>
<div class="b" style="left:342px;top:739px;width:46px;text-align:right">391%</div>
<div class="b" style="left:392px;top:739px;width:123px;text-align:right">$552</div>
<div class="b" style="left:519px;top:739px;width:81px;text-align:right">$555</div>
<div class="b" style="left:604px;top:739px;width:92px;text-align:right">$664</div>
<div class="b" style="left:700px;top:739px;width:89px;text-align:right">$112</div>
<div class="b" style="left:792px;top:739px;width:79px;text-align:right">$1,344</div>
<div class="b" style="left:875px;top:739px;width:70px;text-align:right">20%</div>
<div class="b" style="left:249px;top:759px;width:89px;text-align:right">$90K</div>
<div class="b" style="left:342px;top:759px;width:46px;text-align:right">440%</div>
<div class="b" style="left:392px;top:759px;width:123px;text-align:right">$638</div>
<div class="b" style="left:519px;top:759px;width:81px;text-align:right">$2,486</div>
<div class="b" style="left:604px;top:759px;width:92px;text-align:right">$2,486</div>
<div class="b" style="left:700px;top:759px;width:89px;text-align:right">$1,849</div>
<div class="b" style="left:792px;top:759px;width:79px;text-align:right">$22,182</div>
<div class="b" style="left:875px;top:759px;width:70px;text-align:right">290%</div>
</div>
</body></html>
